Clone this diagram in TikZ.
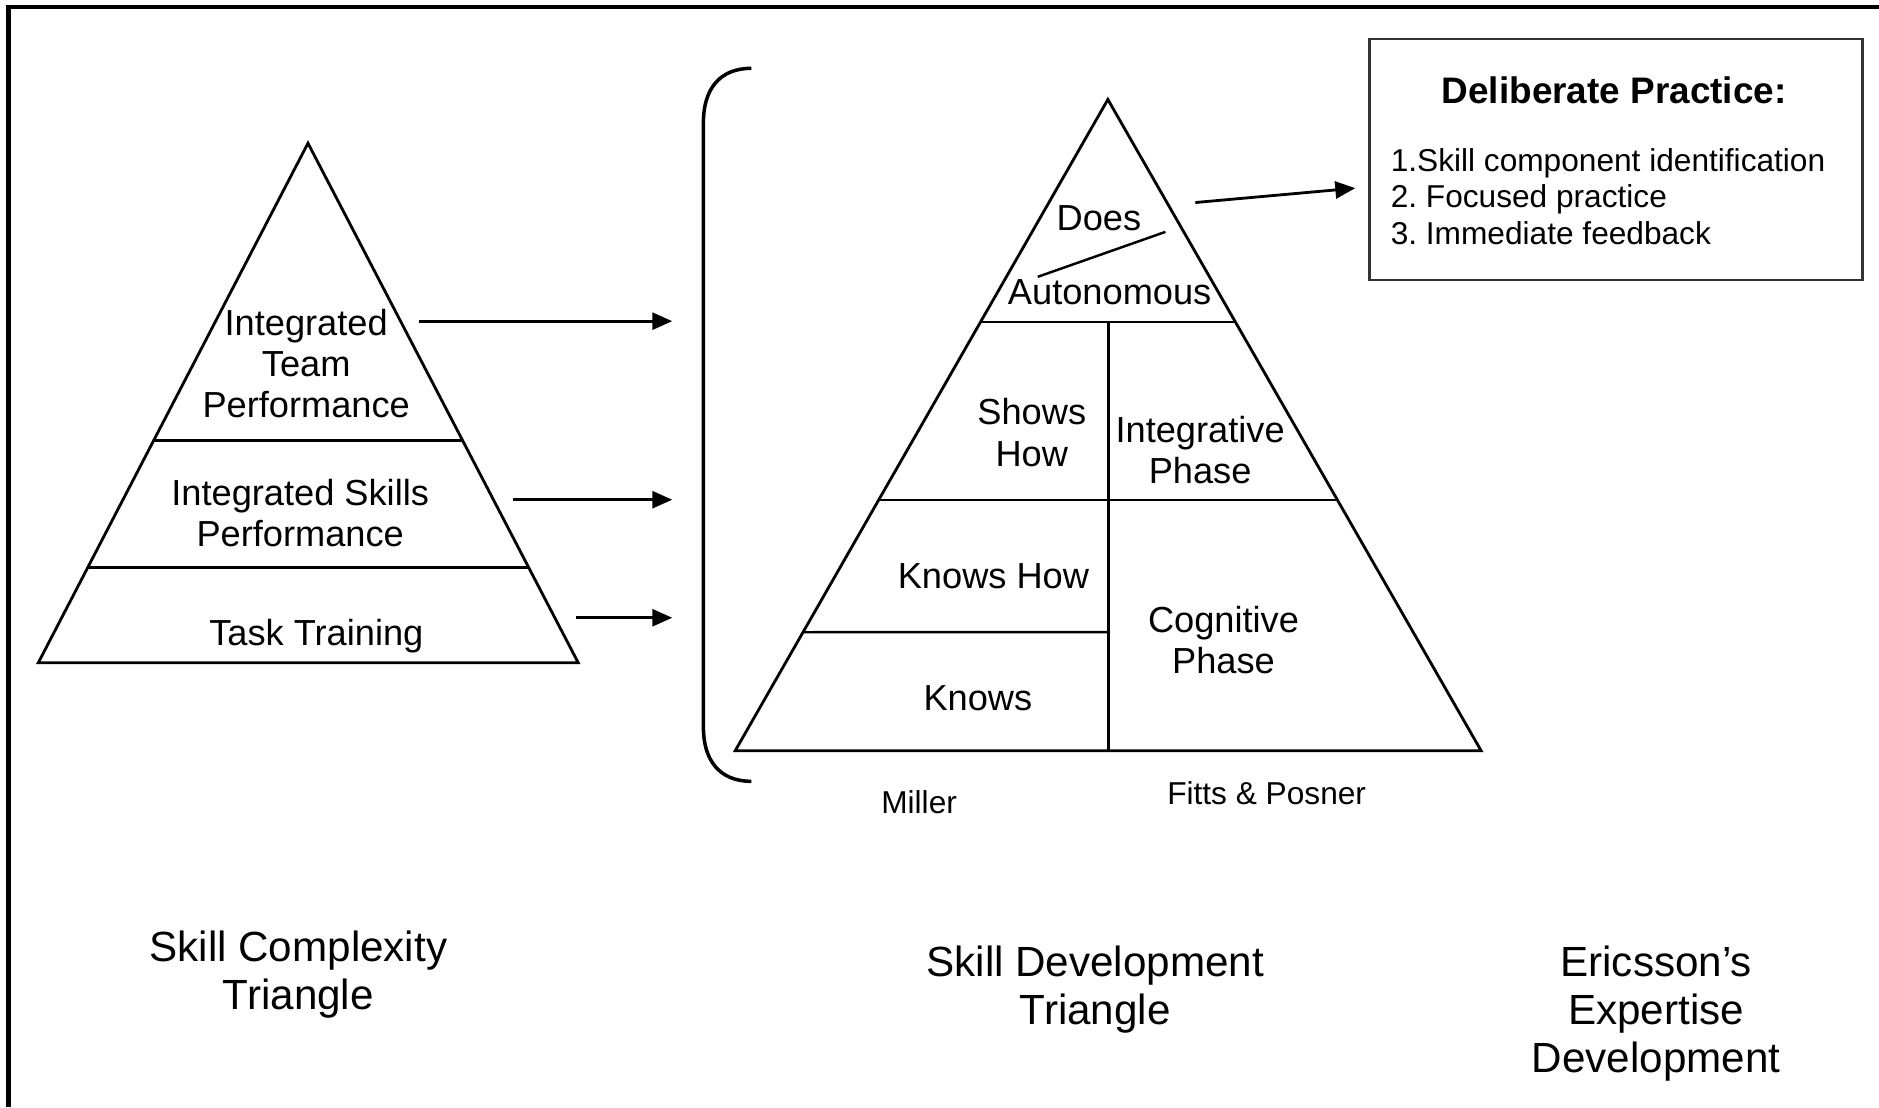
\documentclass[tikz,border=0pt]{standalone}
\usepackage{fontspec}
\setmainfont{Liberation Sans}
\frenchspacing
\usepackage{tikz}
\usetikzlibrary{positioning,calc,arrows.meta}
\tikzset{
  side/.style={line width=0.8pt,draw=black},
  divider/.style={line width=0.7pt,draw=black},
  pointer/.style={line width=0.8pt,draw=black,-{Triangle[length=2mm,width=1.7mm]}},
  level/.style={align=center,inner sep=0pt,font=\fontsize{10.3}{11.7}\selectfont},
  source/.style={inner sep=0pt,font=\fontsize{9}{10.3}\selectfont},
  caption/.style={align=center,inner sep=0pt,font=\fontsize{12}{13.6}\selectfont},
  practice/.style={draw=black!80,line width=0.7pt,minimum width=4.925cm,minimum height=2.406cm}
}

\begin{document}
\begin{tikzpicture}[x=0.011983cm,y=-0.011983cm]
      \useasboundingbox (0,0) rectangle (1568,924);
      \draw[line width=1.3pt] (7,924) -- (7,6) -- (1568,6);
      % skill complexity triangle
      \coordinate (L1) at (257,119.5);
      \coordinate (L2) at (32,553);
      \coordinate (L3) at (482.5,553);
      \draw[side] (L1) -- (L2) -- (L3) -- cycle;
      \draw[divider] ($(L1)!0.5723!(L2)$) -- ($(L1)!0.5723!(L3)$);
      \draw[divider] ($(L1)!0.8171!(L2)$) -- ($(L1)!0.8171!(L3)$);
      \node[level] (team) at (255.5,303.5) {Integrated\\Team\\Performance};
      \node[level] (skills) at (250.5,428) {Integrated Skills\\Performance};
      \node[level] (task) at (264,531) {Task Training};
      \coordinate (a1) at (349.5,268);
      \coordinate (a2) at (428,417);
      \coordinate (a3) at (481,515.5);
      \coordinate (b1) at (561,268);
      \coordinate (b2) at (561,417);
      \coordinate (b3) at (561,515.5);
      \draw[pointer] (a1) -- (b1);
      \draw[pointer] (a2) -- (b2);
      \draw[pointer] (a3) -- (b3);
      % bracket
      \coordinate (k1) at (627,57);
      \coordinate (k3) at (627,652);
      \draw[line width=1pt] (k1) .. controls (600,57) and (587,75) .. (587,102)
        -- (587,607) .. controls (587,634) and (600,652) .. (k3);
      % skill development triangle
      \coordinate (M1) at (924.5,83);
      \coordinate (M2) at (613.5,626.5);
      \coordinate (M3) at (1236,626.5);
      \coordinate (mb) at (925,626.5);
      \draw[side] (M1) -- (M2) -- (M3) -- cycle;
      \draw[divider] ($(M1)!0.3414!(M2)$) -- ($(M1)!0.3414!(M3)$);
      \draw[divider] ($(M1)!0.615!(M2)$) -- ($(M1)!0.615!(M3)$);
      \draw[divider] ($(M1)!0.818!(M2)$) -- (925,527.5);
      \draw[divider] (925,268.5) -- (mb);
      \node[level] (does) at (917,182.5) {Does};
      \node[level] (auto) at (926,244) {Autonomous};
      \coordinate (d1) at (866,231);
      \coordinate (d2) at (972.5,193.5);
      \draw[line width=0.7pt] (d1) -- (d2);
      \node[level] (shows) at (861,361) {Shows\\How};
      \node[level] (integ) at (1001.5,375.5) {Integrative\\Phase};
      \node[level] (khow) at (829,480.5) {Knows How};
      \node[level] (cogn) at (1021,534) {Cognitive\\Phase};
      \node[level] (knows) at (816,582.5) {Knows};
      \node[source] (miller) at (767,669) {Miller};
      \node[source] (fitts) at (1057,662) {Fitts \& Posner};
      % deliberate practice
      \node[practice] (dp) at (1348.5,133) {};
      \node[inner sep=0pt,font=\fontsize{10.5}{12}\selectfont\bfseries] (dptitle) at (1347,75) {Deliberate Practice:};
      \node[source,align=left,anchor=west] (dplist) at (1160,164)
        {1.Skill component identification\\2. Focused practice\\3. Immediate feedback};
      \coordinate (e1) at (997.5,169);
      \coordinate (e2) at (1131,157);
      \draw[pointer] (e1) -- (e2);
      % captions
      \node[caption] (cap1) at (249,813) {Skill Complexity\\Triangle};
      \node[caption] (cap2) at (914,826) {Skill Development\\Triangle};
      \node[caption] (cap3) at (1382,846) {Ericsson’s\\Expertise\\Development};
    \end{tikzpicture}
\end{document}
